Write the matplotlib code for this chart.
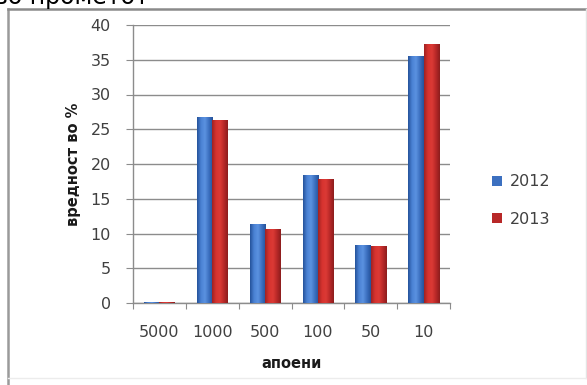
import numpy as np
import matplotlib
matplotlib.use("Agg")
import matplotlib.pyplot as plt
from matplotlib.colors import LinearSegmentedColormap
from matplotlib.patches import Rectangle
from matplotlib.lines import Line2D

categories = ["5000", "1000", "500", "100", "50", "10"]
years = ["2012", "2013"]
values_2012 = [0.2, 26.7, 11.3, 18.4, 8.3, 35.5]
values_2013 = [0.2, 26.4, 10.6, 17.8, 8.2, 37.2]

W, H = 587, 385
fig = plt.figure(figsize=(W / 100, H / 100), dpi=100)
fig.patch.set_facecolor("white")

font = ["DejaVu Sans"]
tick_color = "#404040"


def fig_line(xs, ys, color, lw):
    fig.add_artist(Line2D([v / W for v in xs], [1 - v / H for v in ys],
                          transform=fig.transFigure, color=color, linewidth=lw))


# outer chart frame: strong top/left edge, faint right/bottom edge
fig_line([8, 8], [9, 385], "#9a9a9a", 1.8)
fig_line([8, 587], [9, 9], "#8a8a8a", 1.8)
fig_line([585.5, 585.5], [9, 378], "#e4e4e4", 1.0)
fig_line([8, 586], [377.5, 377.5], "#ececec", 1.0)

# heading above the frame, cut by the figure edge
fig.text(-6 / W, 1 - 4 / H, "во прометот", fontsize=17, family=font,
         color="#000000", ha="left", va="baseline")

ax = fig.add_axes([133 / W, 1 - 303 / H, (450 - 133) / W, (303 - 25) / H])
ax.set_facecolor("white")

blue_cmap = LinearSegmentedColormap.from_list(
    "b", ["#25529a", "#4a82d4", "#5b92e0", "#3c70c0", "#25529a"])
red_cmap = LinearSegmentedColormap.from_list(
    "r", ["#a02222", "#d6332f", "#dc3a35", "#b82828", "#8c1d1d"])

x = np.arange(len(categories)) + 0.5
bw = 0.29
grad = np.linspace(0, 1, 64).reshape(1, -1)

for offs, vals, cmap, base in [(-bw / 2, values_2012, blue_cmap, "#4a7ebb"),
                               (bw / 2, values_2013, red_cmap, "#be4b48")]:
    bars = ax.bar(x + offs, vals, width=bw, color=base, edgecolor="none", zorder=3)
    for b in bars:
        x0, y0 = b.get_x(), b.get_y()
        w, h = b.get_width(), b.get_height()
        im = ax.imshow(grad, cmap=cmap, aspect="auto", extent=(x0, x0 + w, y0, y0 + h),
                       zorder=4, interpolation="bilinear")
        im.set_clip_path(b)

ax.set_xlim(0, len(categories))
ax.set_ylim(0, 40)
ax.set_yticks(np.arange(0, 41, 5))
ax.set_xticks(np.arange(0, len(categories) + 1))
ax.set_xticklabels([])
ax.set_xticks(x, minor=True)
ax.set_xticklabels(categories, minor=True)
ax.tick_params(axis="x", which="minor", length=0, pad=16, labelsize=11.5,
               labelcolor=tick_color)
ax.tick_params(axis="x", which="major", length=4, color="#8c8c8c", direction="out")
ax.tick_params(axis="y", length=5, color="#8c8c8c", direction="out", pad=11,
               labelsize=11.5, labelcolor=tick_color)
for lbl in ax.get_xticklabels(minor=True) + ax.get_yticklabels():
    lbl.set_family(font)

ax.grid(axis="y", color="#8c8c8c", linewidth=1.0, zorder=0)
ax.set_axisbelow(True)
for side in ["top", "right"]:
    ax.spines[side].set_visible(False)
for side in ["left", "bottom"]:
    ax.spines[side].set_color("#8c8c8c")
    ax.spines[side].set_linewidth(1.0)

ax.set_ylabel("вредност во %", fontsize=10.5, fontweight="bold", family=font,
              color="#1a1a1a", labelpad=7)
ax.set_xlabel("апоени", fontsize=10.5, fontweight="bold", family=font,
              color="#1a1a1a", labelpad=11)

handles = [Rectangle((0, 0), 1, 1, facecolor="#3c70c0"),
           Rectangle((0, 0), 1, 1, facecolor="#b82828")]
leg = fig.legend(handles, years, loc="upper left", bbox_to_anchor=(478 / W, 1 - 160 / H),
                 frameon=False, handlelength=0.6, handleheight=0.6, handletextpad=0.5,
                 labelspacing=1.4, prop={"family": font, "size": 11.5})
for t in leg.get_texts():
    t.set_color(tick_color)

fig.savefig("out.png", dpi=100)
